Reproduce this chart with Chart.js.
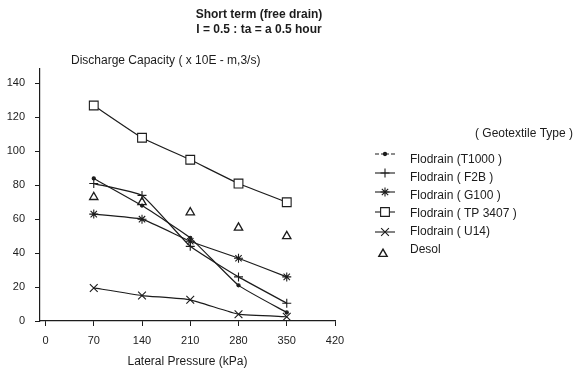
<!DOCTYPE html>
<html><head><meta charset="utf-8">
<script src="https://cdn.jsdelivr.net/npm/chart.js@4/dist/chart.umd.min.js"></script>
<style>html,body{margin:0;padding:0;background:#fff}#wrap{width:582px;height:373px;position:relative}</style>
</head><body><div id="wrap"><canvas id="c" width="582" height="373"></canvas></div>
<script>
const pressures = [70, 140, 210, 280, 350];
const xTicks = [0, 70, 140, 210, 280, 350, 420];
const yTicks = [0, 20, 40, 60, 80, 100, 120, 140];
const t1000  = [84, 68, 49, 21, 5];
const f2b    = [81, 74, 44, 26, 10.5];
const g100   = [63, 60, 47, 37, 26];
const tp3407 = [127, 108, 95, 81, 70];
const u14    = [19.5, 15, 12.5, 4, 2.5];
const desol  = [73, 70, 64, 55, 50];
const seriesNames = ['Flodrain (T1000 )', 'Flodrain ( F2B )', 'Flodrain ( G100 )', 'Flodrain ( TP 3407 )', 'Flodrain ( U14)', 'Desol'];
const titleLines = ['Short term (free drain)', 'I = 0.5 : ta = a 0.5 hour'];
const yTitle = 'Discharge Capacity ( x 10E - m,3/s)';
const xTitle = 'Lateral Pressure (kPa)';
const legendTitle = '( Geotextile Type )';

const FONT = '"Liberation Sans", Arial, Helvetica, sans-serif';
const INK = '#1c1c1c';
const pts = arr => pressures.map((p, i) => ({x: p, y: arr[i]}));

const styles = [
  {pointStyle: 'circle',   radius: 1.6, bg: INK},
  {pointStyle: 'cross',    radius: 4.5, bg: INK},
  {pointStyle: 'star',     radius: 4.5, bg: INK},
  {pointStyle: 'rect',     radius: 6.2, bg: '#fff'},
  {pointStyle: 'crossRot', radius: 5.5, bg: INK},
  {pointStyle: 'triangle', radius: 4.8, bg: 'rgba(0,0,0,0)'}
];
const seriesData = [t1000, f2b, g100, tp3407, u14, desol];

const datasets = seriesData.map((arr, i) => ({
  label: seriesNames[i],
  data: pts(arr),
  showLine: i !== 5,
  borderColor: INK,
  borderWidth: 1.2,
  tension: 0.12,
  pointStyle: styles[i].pointStyle,
  pointRadius: styles[i].radius,
  pointBackgroundColor: styles[i].bg,
  pointBorderColor: INK,
  pointBorderWidth: i === 5 ? 1.3 : 1.1,
  fill: false
}));

function drawSym(ctx, style, x, y, withLine, dashed) {
  ctx.save();
  ctx.strokeStyle = INK; ctx.fillStyle = style.bg; ctx.lineWidth = 1.1;
  if (withLine) {
    ctx.beginPath();
    if (dashed) {
      ctx.moveTo(x - 10, y); ctx.lineTo(x - 6, y); ctx.moveTo(x - 4, y); ctx.lineTo(x + 4, y); ctx.moveTo(x + 6, y); ctx.lineTo(x + 10, y);
    } else { ctx.moveTo(x - 10, y); ctx.lineTo(x + 10, y); }
    ctx.stroke();
  }
  const r = style.radius;
  ctx.beginPath();
  switch (style.pointStyle) {
    case 'circle': ctx.arc(x, y, r, 0, Math.PI * 2); ctx.fill(); ctx.stroke(); break;
    case 'cross': ctx.moveTo(x, y - r); ctx.lineTo(x, y + r); ctx.moveTo(x - r, y); ctx.lineTo(x + r, y); ctx.stroke(); break;
    case 'star': {
      const d = r * Math.SQRT1_2;
      ctx.moveTo(x, y - r); ctx.lineTo(x, y + r); ctx.moveTo(x - r, y); ctx.lineTo(x + r, y);
      ctx.moveTo(x - d, y - d); ctx.lineTo(x + d, y + d); ctx.moveTo(x - d, y + d); ctx.lineTo(x + d, y - d); ctx.stroke(); break;
    }
    case 'rect': { const s = r * Math.SQRT1_2; ctx.rect(x - s, y - s, 2 * s, 2 * s); ctx.fill(); ctx.stroke(); break; }
    case 'crossRot': { const d = r * Math.SQRT1_2; ctx.moveTo(x - d, y - d); ctx.lineTo(x + d, y + d); ctx.moveTo(x - d, y + d); ctx.lineTo(x + d, y - d); ctx.stroke(); break; }
    case 'triangle': {
      const half = r * Math.sqrt(3) / 2;
      ctx.lineWidth = 1.4;
      ctx.moveTo(x, y - r); ctx.lineTo(x + half, y + r / 2); ctx.lineTo(x - half, y + r / 2); ctx.closePath(); ctx.stroke(); break;
    }
  }
  ctx.restore();
}

const overlay = {
  id: 'overlay',
  afterDraw(chart) {
    const ctx = chart.ctx;
    ctx.save();
    ctx.fillStyle = INK;
    ctx.textBaseline = 'middle';
    ctx.textAlign = 'center';
    ctx.font = 'bold 12px ' + FONT;
    ctx.fillText(titleLines[0], 259, 15);
    ctx.fillText(titleLines[1], 259, 30);
    ctx.textAlign = 'left';
    ctx.font = '12px ' + FONT;
    ctx.fillText(yTitle, 71, 61);
    ctx.fillText(legendTitle, 475, 134);
    const textY = [160, 178, 196, 214, 232, 250];
    const symY = [154, 173, 192, 212, 232, 254];
    seriesNames.forEach((n, i) => {
      ctx.fillStyle = INK;
      ctx.fillText(n, 410, textY[i]);
      drawSym(ctx, styles[i], i === 5 ? 383 : 385, symY[i], i !== 5, i === 0);
    });
    ctx.restore();
  }
};

new Chart(document.getElementById('c'), {
  type: 'scatter',
  data: {datasets},
  options: {
    responsive: false,
    animation: false,
    devicePixelRatio: 1,
    layout: {padding: {top: 69, right: 247, bottom: 0, left: 0}},
    plugins: {legend: {display: false}, tooltip: {enabled: false}, title: {display: false}},
    elements: {line: {borderCapStyle: 'round'}},
    scales: {
      x: {
        type: 'linear', min: -8, max: 420,
        afterBuildTicks: s => { s.ticks = xTicks.map(v => ({value: v})); },
        afterFit: s => { s.height = 52; },
        ticks: {font: {family: FONT, size: 11}, color: INK, padding: 8, maxRotation: 0, autoSkip: false},
        grid: {drawOnChartArea: false, drawTicks: true, tickLength: 5, color: INK, lineWidth: 1},
        border: {display: true, color: INK, width: 1.2},
        title: {display: true, text: xTitle, color: INK, font: {family: FONT, size: 12}, padding: {top: 0, bottom: 4}}
      },
      y: {
        type: 'linear', min: 0, max: 148.5,
        afterBuildTicks: s => { s.ticks = yTicks.map(v => ({value: v})); },
        afterFit: s => { s.width = 40; },
        ticks: {font: {family: FONT, size: 11}, color: INK, padding: 10, autoSkip: false},
        grid: {drawOnChartArea: false, drawTicks: true, tickLength: 5, color: INK, lineWidth: 1},
        border: {display: true, color: INK, width: 1.2}
      }
    }
  },
  plugins: [overlay]
});
</script></body></html>
